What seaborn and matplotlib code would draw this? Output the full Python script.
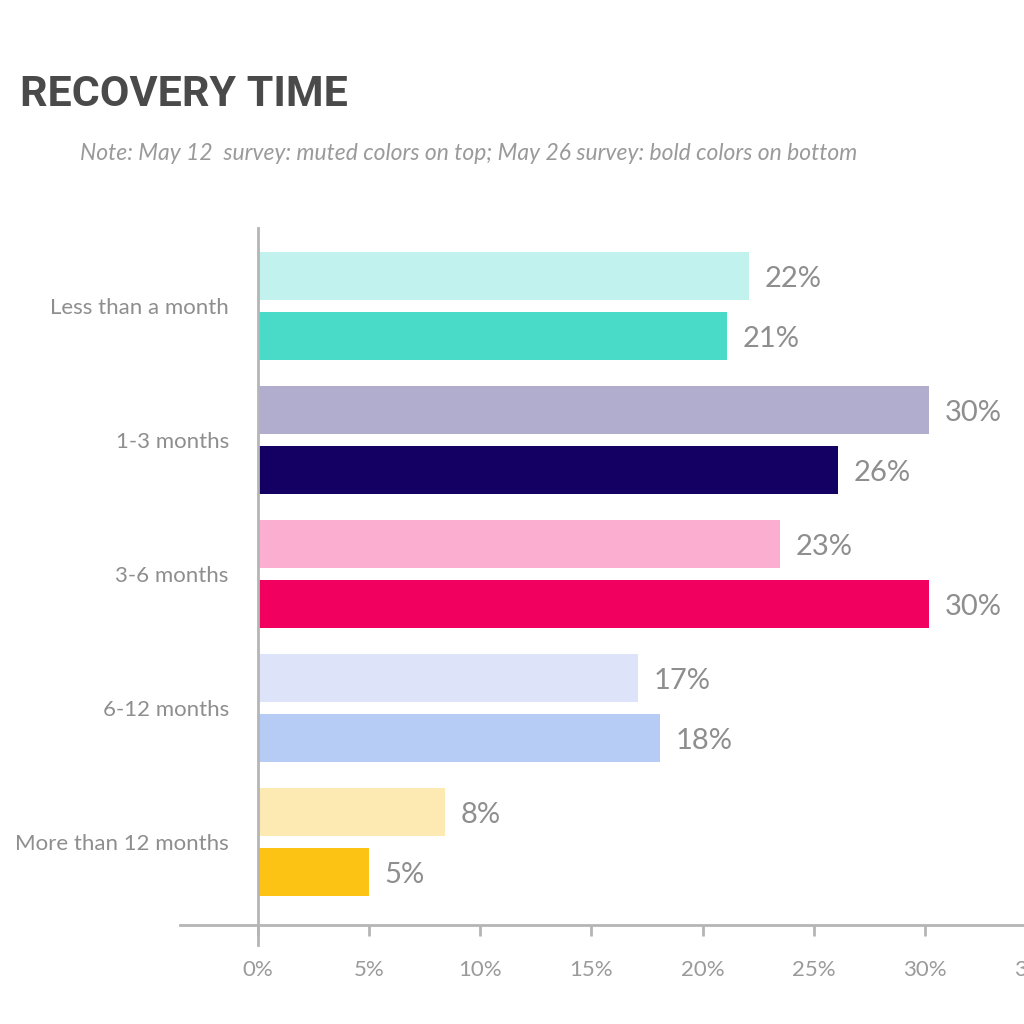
import matplotlib
matplotlib.use("Agg")
import matplotlib.pyplot as plt
import seaborn as sns
import pandas as pd

categories = ["Less than a month", "1-3 months", "3-6 months", "6-12 months", "More than 12 months"]
may12_values = [22.1, 30.2, 23.5, 17.1, 8.4]
may26_values = [21.1, 26.1, 30.2, 18.1, 5.0]
may12_labels = ["22%", "30%", "23%", "17%", "8%"]
may26_labels = ["21%", "26%", "30%", "18%", "5%"]
may12_colors = ["#C2F2EE", "#B1ADCE", "#FBAECF", "#DDE4F9", "#FDE9B2"]
may26_colors = ["#4ADBC8", "#140063", "#F20060", "#B7CCF5", "#FDC314"]
x_ticks = [0, 5, 10, 15, 20, 25, 30, 35]

df = pd.DataFrame({
    "category": categories * 2,
    "value": may12_values + may26_values,
    "survey": ["May 12"] * 5 + ["May 26"] * 5,
})

sns.set_theme(style="white")
plt.rcParams["font.family"] = ["Lato", "DejaVu Sans"]

fig = plt.figure(figsize=(10.24, 10.24), dpi=100)
# axes runs slightly past the right edge so the 35% label is cut like the original
ax = fig.add_axes([180 / 1024, 1 - 945 / 1024, 856 / 1024, (945 - 228) / 1024])

sns.barplot(data=df, y="category", x="value", hue="survey", orient="h",
            width=0.896, gap=0.2, legend=False, ax=ax, order=categories,
            hue_order=["May 12", "May 26"])

ax.set_xticks(x_ticks)
ax.set_xticklabels([f"{t}%" for t in x_ticks])
ax.set_xlim(-3.51, 35.0)
ax.set_ylim(4.769, -0.582)
ax.set_xlabel("")
ax.set_ylabel("")

colors = may12_colors + may26_colors
labels = may12_labels + may26_labels
for p, c, lab in zip(ax.patches, colors, labels):
    p.set_facecolor(c)
    p.set_edgecolor("none")
    ax.text(p.get_x() + p.get_width() + 0.7, p.get_y() + p.get_height() / 2 + 0.02, lab,
            va="center", ha="left", fontsize=21, color="#8E8E8E")

for s in ["top", "right"]:
    ax.spines[s].set_visible(False)
ax.spines["left"].set_position(("data", 0))
ax.spines["bottom"].set_position(("axes", 20 / 717))
for s in ["left", "bottom"]:
    ax.spines[s].set_color("#B5B5B5")
    ax.spines[s].set_linewidth(2)

ax.tick_params(axis="x", length=8, width=2, color="#B5B5B5", direction="out",
               labelsize=16, labelcolor="#9A9A9A", pad=17, bottom=True)
ax.tick_params(axis="y", length=0, labelsize=16, labelcolor="#8E8E8E", pad=21)

fig.text(20 / 1024, 1 - 94 / 1024, "RECOVERY TIME", fontsize=31, fontweight="bold",
         color="#4A4A4A", va="center", ha="left", family=["Roboto", "DejaVu Sans"])
fig.text(80 / 1024, 1 - 153 / 1024,
         "Note: May 12  survey: muted colors on top; May 26 survey: bold colors on bottom",
         fontsize=16.5, fontstyle="italic", color="#9A9A9A",
         va="center", ha="left")

fig.savefig("out.png", dpi=100)
